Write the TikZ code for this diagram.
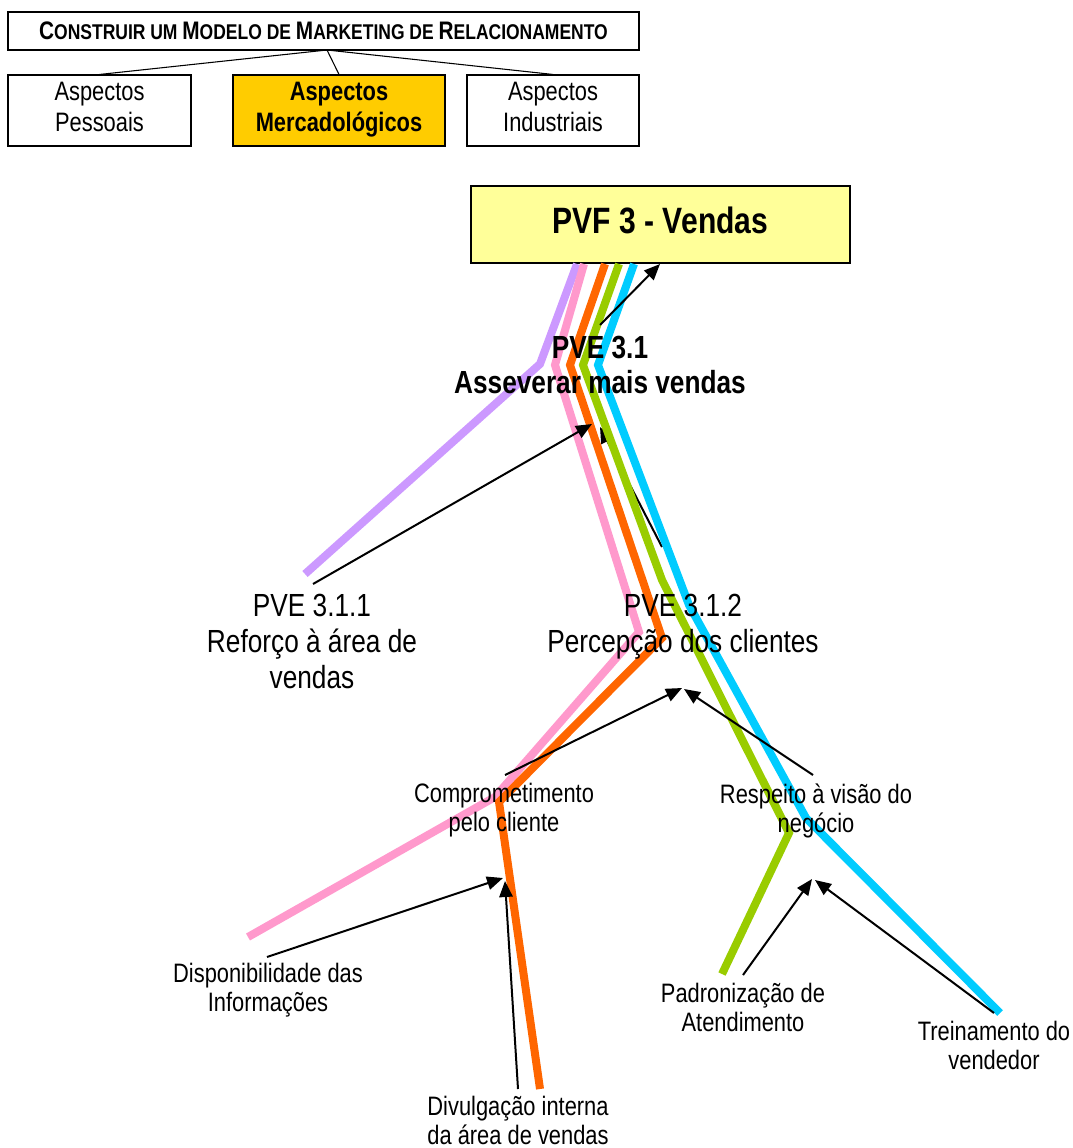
\documentclass[tikz,border=0pt]{standalone}
\usepackage{fontspec}
\setmainfont{Liberation Sans}[FakeStretch=0.82]
\usetikzlibrary{arrows.meta}

% larger first letter for the small-caps style heading
\newcommand\capl[1]{{\fontsize{19}{22}\selectfont #1}}

\definecolor{cPurple}{HTML}{CC99FF}
\definecolor{cPink}{HTML}{FF99CC}
\definecolor{cOrange}{HTML}{FF6600}
\definecolor{cGreen}{HTML}{99CC00}
\definecolor{cBlue}{HTML}{00CCFF}
\definecolor{cGold}{HTML}{FFCC00}
\definecolor{cPale}{HTML}{FFFF99}

\tikzset{
  hbox/.style={draw=black, line width=0.8pt, inner sep=0pt, minimum height=53.25pt},
  asp/.style={font=\fontsize{20}{23.25}\selectfont, align=center, inner sep=0pt},
  big/.style={font=\fontsize{24}{27}\selectfont, align=center, inner sep=0pt},
  bigb/.style={font=\bfseries\fontsize{24}{26.25}\selectfont, align=center, inner sep=0pt},
  small/.style={font=\fontsize{20}{21.75}\selectfont, align=center, inner sep=0pt},
  arr/.style={line width=1.5pt, -{Triangle[length=12pt,width=10pt]}},
  trail/.style={line width=6pt, line join=miter},
}

\begin{document}
\begin{tikzpicture}[x=0.75pt,y=-0.75pt]
\useasboundingbox (0,0) rectangle (1073,1148);

% heading and the three aspect boxes
\node[draw=black, line width=0.8pt, inner sep=0pt, minimum width=473.25pt, minimum height=28.5pt,
      font=\bfseries\fontsize{16}{19}\selectfont] (title) at (323.5,31)
  {\capl{C}ONSTRUIR UM \capl{M}ODELO DE \capl{M}ARKETING DE \capl{R}ELACIONAMENTO};
\node[hbox, minimum width=137.25pt] (pess) at (99.5,110.5) {};
\node[hbox, fill=cGold, minimum width=159pt] (merc) at (339,110.5) {};
\node[hbox, minimum width=129pt] (indu) at (553,110.5) {};
\node[asp] (pesst) at (99.5,106.5) {Aspectos\\Pessoais};
\node[asp, font=\bfseries\fontsize{20}{23.25}\selectfont] (merct) at (339,109.5) {Aspectos\\Mercadológicos};
\node[asp] (indut) at (553,106.5) {Aspectos\\Industriais};

\coordinate (tj) at (327,50);
\draw[line width=0.8pt] (tj) -- (pess.north);
\draw[line width=0.8pt] (tj) -- (merc.north);
\draw[line width=0.8pt] (tj) -- (indu.north);

% main goal box
\node[draw=black, line width=1.6pt, fill=cPale, minimum width=284.25pt, minimum height=57.75pt,
      inner sep=0pt] (pvf) at (660.5,224.5) {};
\node[font=\bfseries\fontsize{27.5}{30}\selectfont, inner sep=0pt] (pvft) at (660.5,220) {PVF 3 - Vendas};

% arrow tails and heads
\coordinate (s31)  at (600,325);  \coordinate (h3)   at (660,264);
\coordinate (s311) at (313,584);  \coordinate (h31a) at (592,424);
\coordinate (s312) at (662,547);  \coordinate (h31b) at (600,427);
\coordinate (sCom) at (505,775);  \coordinate (h312a) at (682,688);
\coordinate (sRes) at (813,775);  \coordinate (h312b) at (684,689);
\coordinate (sDis) at (267,957);  \coordinate (hCa) at (503,878);
\coordinate (sDiv) at (518,1089); \coordinate (hCb) at (505,881);
\coordinate (sPad) at (743,975);  \coordinate (hRa) at (812,879);
\coordinate (sTre) at (994,1013); \coordinate (hRb) at (815,880);

\draw[arr] (s312) -- (h31b);

% coloured trails
\draw[trail, cPurple] (577,264) -- (540,364) -- (305,574);
\draw[trail, cPink]   (584,264) -- (555,365) -- (639,632) -- (495,797) -- (248,937);
\draw[trail, cOrange] (605,264) -- (570,365) -- (662,638) -- (499,802) -- (540,1089);
\draw[trail, cGreen]  (619,264) -- (583,365) -- (662,580) -- (789,833) -- (722,974);
\draw[trail, cBlue]   (634,264) -- (598,365) -- (689,605) -- (806,818) -- (1000,1013);

\draw[arr] (s31) -- (h3);
\draw[arr] (s311) -- (h31a);
\draw[arr] (sCom) -- (h312a);
\draw[arr] (sRes) -- (h312b);
\draw[arr] (sDis) -- (hCa);
\draw[arr] (sDiv) -- (hCb);
\draw[arr] (sPad) -- (hRa);
\draw[arr] (sTre) -- (hRb);

% labels
\node[bigb]  (pve31)  at (600,364.5) {PVE 3.1\\Asseverar mais vendas};
\node[big]   (pve311) at (312,641)   {PVE 3.1.1\\Reforço à área de\\vendas};
\node[big]   (pve312) at (683,627)   {PVE 3.1.2\\Percepção dos clientes};
\node[small] (com)    at (504,810.5) {Comprometimento\\pelo cliente};
\node[small] (res)    at (816,810.5) {Respeito à visão do\\negócio};
\node[small] (dis)    at (268,990)   {Disponibilidade das\\Informações};
\node[small] (div)    at (518,1120)  {Divulgação interna\\da área de vendas};
\node[small] (pad)    at (743,1007.5){Padronização de\\Atendimento};
\node[small] (tre)    at (994,1045.5){Treinamento do\\vendedor};
\end{tikzpicture}
\end{document}
